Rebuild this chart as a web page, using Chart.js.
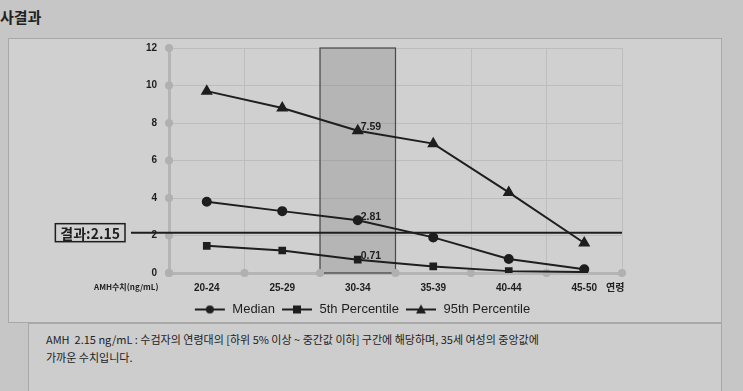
<!DOCTYPE html>
<html>
<head>
<meta charset="utf-8">
<script src="https://cdn.jsdelivr.net/npm/chart.js@4/dist/chart.umd.min.js"></script>
<style>
  body { margin: 0; width: 743px; height: 391px; background: #c6c6c6; overflow: hidden; position: relative;
         font-family: 'Liberation Sans', 'Noto Sans CJK KR', sans-serif; color: #222; }
  #title { position: absolute; left: 0; top: 6px; font-size: 15px; font-weight: bold; font-family: 'Noto Sans CJK KR', sans-serif; }
  #panel { position: absolute; left: 8px; top: 38px; width: 712px; height: 283px; background: #d0d0d0; border: 1px solid #a8a8a8; }
  #note { position: absolute; left: 28px; top: 323px; width: 694px; height: 80px; background: #cdcdcd; border: 1px solid #a8a8a8;
          font-size: 11px; line-height: 18px; padding: 6px 0 0 17px; box-sizing: border-box; font-family: 'Noto Sans CJK KR', sans-serif; }
  #wrap { position: absolute; left: 0; top: 0; width: 743px; height: 328px; }
  .axisName { position: absolute; font-weight: bold; font-family: 'Noto Sans CJK KR', sans-serif; }
</style>
</head>
<body>
<div id="title">사결과</div>
<div id="panel"></div>
<div id="note">AMH &nbsp;2.15 ng/mL : 수검자의 연령대의 [하위 5% 이상 ~ 중간값 이하] 구간에 해당하며, 35세 여성의 중앙값에<br>가까운 수치입니다.</div>
<div id="wrap"><canvas id="amhChart"></canvas></div>
<div class="axisName" style="left:94px; top:281px; font-size:8px;">AMH수치(ng/mL)</div>
<div class="axisName" style="left:606px; top:279px; font-size:10px;">연령</div>
<script>
// Data
const ageGroups = ["20-24", "25-29", "30-34", "35-39", "40-44", "45-50"];
const medianValues = [3.8, 3.3, 2.81, 1.9, 0.75, 0.2];
const p5Values = [1.45, 1.2, 0.71, 0.35, 0.1, 0.05];
const p95Values = [9.7, 8.8, 7.59, 6.9, 4.3, 1.6];
const yTickValues = [0, 2, 4, 6, 8, 10, 12];
const resultValue = 2.15;
const resultLabel = "결과:2.15";
const highlightIndex = 2; // 30-34 band, also where values are labelled

const ink = "#1e1e1e";

// small legend icons: line with the marker in the middle
function legendIcon(style) {
    const c = document.createElement("canvas");
    c.width = 32; c.height = 12;
    const g = c.getContext("2d");
    g.strokeStyle = ink; g.fillStyle = ink; g.lineWidth = 2;
    g.beginPath(); g.moveTo(1, 6); g.lineTo(31, 6); g.stroke();
    g.beginPath();
    if (style === "circle") g.arc(16, 6, 4, 0, Math.PI * 2);
    else if (style === "rect") g.rect(12, 2, 8, 8);
    else { g.moveTo(16, 1); g.lineTo(21, 10); g.lineTo(11, 10); g.closePath(); }
    g.fill();
    return c;
}

const amhPlugin = {
    id: "amhExtras",
    beforeDatasetsDraw(chart) {
        const { ctx, chartArea, scales } = chart;
        const x = scales.x, y = scales.y;
        const half = (x.getPixelForValue(1) - x.getPixelForValue(0)) / 2;
        const cx = x.getPixelForValue(highlightIndex);
        ctx.save();
        // shaded age band
        ctx.fillStyle = "rgba(110,110,110,0.28)";
        ctx.fillRect(cx - half, chartArea.top, half * 2, chartArea.bottom - chartArea.top);
        ctx.strokeStyle = "#4a4a4a"; ctx.lineWidth = 1.2;
        ctx.strokeRect(cx - half, chartArea.top, half * 2, chartArea.bottom - chartArea.top);
        // axis dots
        ctx.fillStyle = "#b0b0b0";
        yTickValues.forEach(v => {
            ctx.beginPath(); ctx.arc(chartArea.left, y.getPixelForValue(v), 4, 0, Math.PI * 2); ctx.fill();
        });
        for (let i = 0; i <= ageGroups.length; i++) {
            ctx.beginPath(); ctx.arc(x.getPixelForValue(i) - half, chartArea.bottom, 4, 0, Math.PI * 2); ctx.fill();
        }
        ctx.restore();
    },
    afterDatasetsDraw(chart) {
        const { ctx, chartArea, scales } = chart;
        const ry = scales.y.getPixelForValue(resultValue);
        ctx.save();
        // result line
        ctx.strokeStyle = ink; ctx.lineWidth = 2;
        ctx.beginPath(); ctx.moveTo(chartArea.left - 38, ry); ctx.lineTo(chartArea.right, ry); ctx.stroke();
        // result box
        ctx.font = "bold 14px 'Noto Sans CJK KR', sans-serif";
        const w = ctx.measureText(resultLabel).width + 10;
        const bx = chartArea.left - 44 - w;
        ctx.lineWidth = 1.5;
        ctx.strokeRect(bx, ry - 9, w, 18);
        ctx.fillStyle = ink; ctx.textBaseline = "middle"; ctx.textAlign = "left";
        ctx.fillText(resultLabel, bx + 5, ry + 1);
        // value labels at 30-34
        ctx.font = "bold 10.5px 'Liberation Sans', sans-serif";
        ctx.textBaseline = "bottom";
        chart.data.datasets.forEach((ds, i) => {
            const pt = chart.getDatasetMeta(i).data[highlightIndex];
            ctx.fillText(ds.data[highlightIndex].toFixed(2), pt.x + 3, pt.y + 2);
        });
        ctx.restore();
    }
};

const lineBase = { borderColor: ink, backgroundColor: ink, borderWidth: 2, pointRadius: 4, tension: 0 };

new Chart(document.getElementById("amhChart"), {
    type: "line",
    data: {
        labels: ageGroups,
        datasets: [
            { ...lineBase, label: "Median", data: medianValues, pointStyle: "circle", icon: legendIcon("circle") },
            { ...lineBase, label: "5th Percentile", data: p5Values, pointStyle: "rect", icon: legendIcon("rect") },
            { ...lineBase, label: "95th Percentile", data: p95Values, pointStyle: "triangle", pointRadius: 5, icon: legendIcon("triangle") }
        ]
    },
    options: {
        responsive: true,
        maintainAspectRatio: false,
        animation: false,
        layout: { padding: { left: 102, right: 121, top: 48, bottom: 2 } },
        scales: {
            x: {
                offset: true,
                afterFit: s => { s.height = 24; },
                grid: { offset: true, color: "#bdbdbd", lineWidth: 1, drawTicks: false },
                border: { color: "#b5b5b5", width: 3 },
                ticks: { color: ink, padding: 9, font: { size: 10, weight: "bold", family: "'Liberation Sans', sans-serif" } }
            },
            y: {
                min: 0, max: 12,
                afterFit: s => { s.width = 67; },
                afterBuildTicks: s => { s.ticks = yTickValues.map(v => ({ value: v })); },
                grid: { color: "#bdbdbd", lineWidth: 1, drawTicks: false },
                border: { color: "#b5b5b5", width: 3 },
                ticks: { color: ink, padding: 12, font: { size: 10, weight: "bold", family: "'Liberation Sans', sans-serif" } }
            }
        },
        plugins: {
            legend: {
                position: "bottom",
                labels: {
                    usePointStyle: true,
                    pointStyleWidth: 32,
                    color: ink,
                    padding: 6,
                    font: { size: 13, family: "'Liberation Sans', sans-serif" },
                    generateLabels: chart => chart.data.datasets.map((ds, i) => ({
                        text: ds.label, pointStyle: ds.icon, datasetIndex: i,
                        fillStyle: ink, strokeStyle: ink, fontColor: ink, lineWidth: 0
                    }))
                }
            },
            tooltip: { enabled: false }
        }
    },
    plugins: [amhPlugin]
});
</script>
</body>
</html>
